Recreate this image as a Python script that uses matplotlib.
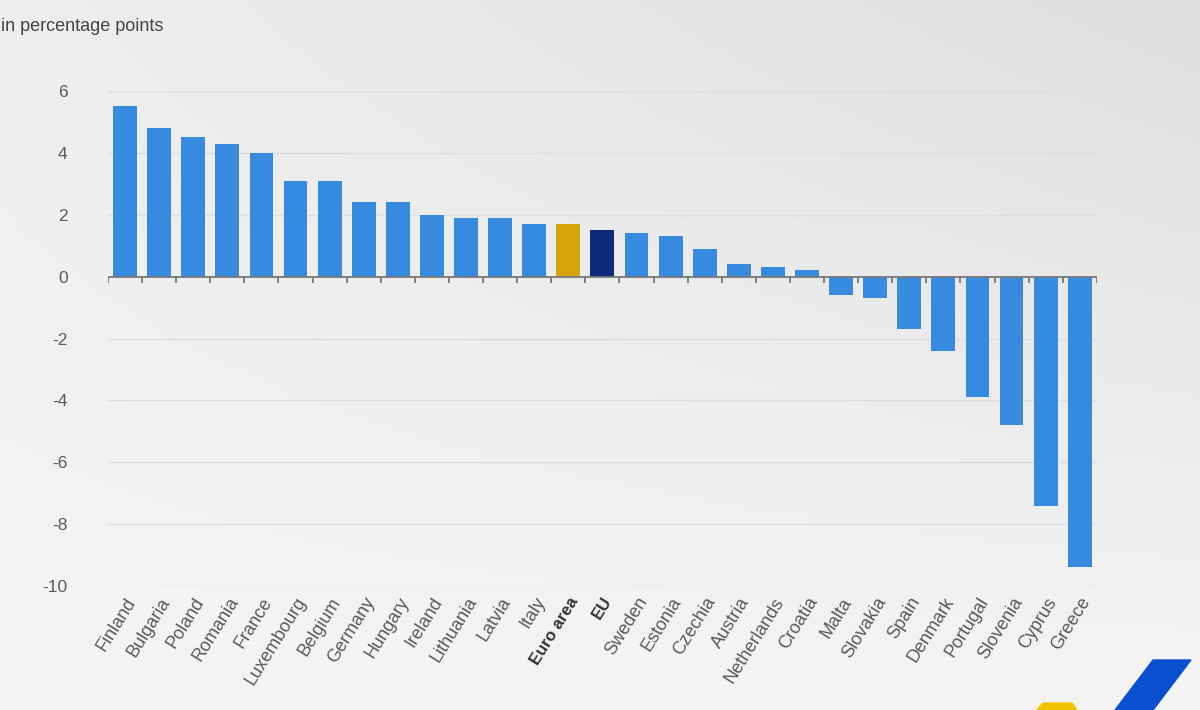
import numpy as np
import matplotlib.pyplot as plt
from matplotlib.patches import Polygon

# Values (percentage points)
countries = ['Finland', 'Bulgaria', 'Poland', 'Romania', 'France', 'Luxembourg',
             'Belgium', 'Germany', 'Hungary', 'Ireland', 'Lithuania', 'Latvia',
             'Italy', 'Euro area', 'EU', 'Sweden', 'Estonia', 'Czechia', 'Austria',
             'Netherlands', 'Croatia', 'Malta', 'Slovakia', 'Spain', 'Denmark',
             'Portugal', 'Slovenia', 'Cyprus', 'Greece']
values = [5.5, 4.8, 4.5, 4.3, 4.0, 3.1, 3.1, 2.4, 2.4, 2.0, 1.9, 1.9, 1.7, 1.7,
          1.5, 1.4, 1.3, 0.9, 0.4, 0.3, 0.2, -0.6, -0.7, -1.7, -2.4, -3.9, -4.8,
          -7.4, -9.4]
y_ticks = [6, 4, 2, 0, -2, -4, -6, -8, -10]

blue = '#368ae0'
special = {'Euro area': '#d4a60a', 'EU': '#0b2b7a'}
text_col = '#5a5a5a'

plt.rcParams['font.family'] = ['Liberation Sans', 'DejaVu Sans']

fig = plt.figure(figsize=(12, 7.1), dpi=100)

# soft grey gradient background
bg = fig.add_axes([0, 0, 1, 1], zorder=-10)
yy, xx = np.mgrid[0:1:200j, 0:1:300j]
shade = 0.955 - 0.06 * (1 - yy) * xx - 0.025 * (1 - yy)
bg.imshow(shade, cmap='gray', vmin=0, vmax=1, aspect='auto', origin='upper',
          extent=[0, 1, 0, 1])
bg.set_axis_off()

ax = fig.add_axes([0.09, 0.1746, 0.824, 0.6972])
ax.patch.set_alpha(0)
x = np.arange(len(countries))
colors = [special.get(c, blue) for c in countries]
ax.bar(x, values, width=0.7, color=colors, zorder=3)

ax.set_xlim(-0.5, len(countries) - 0.5)
ax.set_ylim(-10, 6)
for v in y_ticks:
    if v != 0:
        ax.axhline(v, color='#dcdde6', lw=1, zorder=1)
ax.axhline(0, color='#777777', lw=1.3, zorder=4)
ax.vlines(np.arange(len(countries) + 1) - 0.5, -0.2, 0, color='#777777', lw=1.3, zorder=4)

for s in ax.spines.values():
    s.set_visible(False)
ax.set_yticks(y_ticks)
ax.set_yticklabels([str(v) for v in y_ticks])
ax.tick_params(axis='y', length=0, pad=29, labelsize=12.5, labelcolor=text_col)

ax.set_xticks(x)
ax.set_xticklabels(countries, rotation=58, ha='right', rotation_mode='anchor')
ax.tick_params(axis='x', length=0, pad=6, labelsize=13, labelcolor=text_col)
for lbl in ax.get_xticklabels():
    if lbl.get_text() in special:
        lbl.set_fontweight('bold')
        lbl.set_fontsize(12)
        lbl.set_color('#333333')

fig.text(0.001, 0.962, 'in percentage points', fontsize=13, color='#444444',
         ha='left', va='center')

# logo fragments in the corner
fig.add_artist(Polygon([(1115 / 1200, 0), (1153 / 1200, 50 / 710), (1191 / 1200, 50 / 710),
                        (1153 / 1200, 0)], closed=True, color='#0a4fd1',
                       transform=fig.transFigure))
fig.add_artist(Polygon([(1037 / 1200, 0), (1043 / 1200, 7 / 710), (1072 / 1200, 7 / 710),
                        (1077 / 1200, 0)], closed=True, color='#f2c200',
                       transform=fig.transFigure))

fig.savefig('out.png', dpi=100)
